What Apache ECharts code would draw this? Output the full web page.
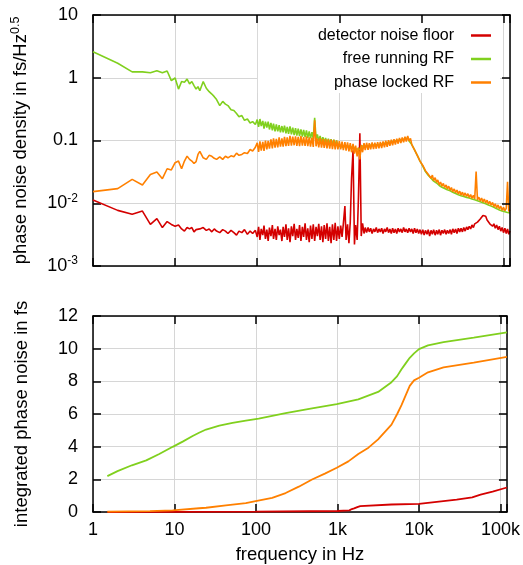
<!DOCTYPE html>
<html>
<head>
<meta charset="utf-8">
<title>phase noise</title>
<script src="https://cdn.jsdelivr.net/npm/echarts@6/dist/echarts.min.js"></script>
<style>
  html, body { margin: 0; padding: 0; background: #fff; }
  #chart { width: 523px; height: 565px; }
</style>
</head>
<body>
<div id="chart"></div>
<script>
// ---- data ----
var seriesNames = ['detector noise floor', 'free running RF', 'phase locked RF'];
var freqTickLabels = ['1', '10', '100', '1k', '10k', '100k'];
var densityTickLabels = ['10{sup|-3}', '10{sup|-2}', '0.1', '1', '10']; // 1e-3 .. 1e1

// top panel: shared frequency grid (Hz)
var freqTop = [
  1, 2, 3, 4, 5, 6, 7, 8, 9, 10, 11, 12, 13, 14, 15, 16, 17, 18, 19, 20,
  22, 24, 26, 28, 30, 32, 35, 38, 41, 44, 48, 52, 56, 60, 65, 70, 76, 82, 88, 95,
  100, 104, 108, 112, 117, 121, 126, 131, 136, 141,
  147, 153, 158, 165, 171, 178, 185, 192, 200, 207,
  215, 224, 232, 241, 251, 261, 271, 282, 293, 304,
  316, 328, 341, 355, 368, 383, 398, 413, 430, 446,
  464, 482, 501, 521, 541, 562, 584, 607, 631, 655,
  681, 708, 736, 764, 794, 825, 858, 891, 926, 962,
  1000, 1040, 1080, 1120, 1170, 1210, 1260, 1310, 1360, 1410,
  1470, 1530, 1580, 1650, 1710, 1780, 1850, 1920, 2000, 2070,
  2150, 2240, 2320, 2410, 2510, 2610, 2710, 2820, 2930, 3040,
  3160, 3280, 3410, 3550, 3680, 3830, 3980, 4130, 4300, 4460,
  4640, 4820, 5010, 5210, 5410, 5620, 5840, 6070, 6310, 6550,
  6810, 7080, 7360, 7640, 7940, 8250, 8580, 8910, 9260, 9620,
  10000, 10400, 10800, 11200, 11700, 12100, 12600, 13100, 13600, 14100,
  14700, 15300, 15800, 16500, 17100, 17800, 18500, 19200, 20000, 20700,
  21500, 22400, 23200, 24100, 25100, 26100, 27100, 28200, 29300, 30400,
  31600, 32800, 34100, 35500, 36800, 38300, 39800, 41300, 43000, 44600,
  46400, 48200, 50100, 52100, 54100, 56200, 58400, 60700, 63100, 65500,
  68100, 70800, 73600, 76400, 79400, 82500, 85800, 89100, 92600, 96200,
  100000, 104000, 108000, 112000, 116000, 120000
];
var detectorDensity = [
  0.0113, 0.0077, 0.0067, 0.0075, 0.0046, 0.0057, 0.0041, 0.0051, 0.0046, 0.0043, 0.0045, 0.0039, 0.0036, 0.0041, 0.0039, 0.0041, 0.0035, 0.0038, 0.0036, 0.0039,
  0.0041, 0.0037, 0.0039, 0.0035, 0.0039, 0.0036, 0.0034, 0.0038, 0.0036, 0.0033, 0.0037, 0.0034, 0.0031, 0.0036, 0.0034, 0.0038, 0.0032, 0.0036, 0.0033, 0.0037,
  0.0029, 0.0042, 0.0026, 0.0039, 0.0031, 0.0044, 0.0027, 0.0038, 0.0025, 0.0041,
  0.0030, 0.0045, 0.0027, 0.0039, 0.0026, 0.0043, 0.0031, 0.0038, 0.0025, 0.0042,
  0.0029, 0.0046, 0.0026, 0.0040, 0.0024, 0.0043, 0.0030, 0.0047, 0.0026, 0.0039,
  0.0028, 0.0045, 0.0025, 0.0042, 0.0029, 0.0048, 0.0026, 0.0040, 0.0024, 0.0044,
  0.0027, 0.0046, 0.0025, 0.0042, 0.0030, 0.0047, 0.0026, 0.0043, 0.0024, 0.0045,
  0.0027, 0.0048, 0.0025, 0.0042, 0.0023, 0.0046, 0.0026, 0.0049, 0.0025, 0.0043,
  0.0027, 0.0044, 0.0029, 0.0047, 0.0090, 0.0026, 0.0046, 0.0023, 0.0050, 0.025,
  0.07, 0.0022, 0.0045, 0.0026, 0.012, 0.13, 0.0030, 0.0048, 0.0033, 0.0041,
  0.0034, 0.0041, 0.0035, 0.0040, 0.0033, 0.0039, 0.0035, 0.0041, 0.0034, 0.0039,
  0.0035, 0.0040, 0.0033, 0.0039, 0.0035, 0.0041, 0.0034, 0.0039, 0.0033, 0.0040,
  0.0034, 0.0039, 0.0033, 0.0040, 0.0035, 0.0039, 0.0034, 0.0041, 0.0035, 0.0039,
  0.0034, 0.0040, 0.0035, 0.0039, 0.0033, 0.0040, 0.0034, 0.0039, 0.0033, 0.0038,
  0.0032, 0.0038, 0.0031, 0.0037, 0.0032, 0.0038, 0.0030, 0.0037, 0.0032, 0.0038,
  0.0031, 0.0037, 0.0032, 0.0038, 0.0031, 0.0037, 0.0033, 0.0038, 0.0032, 0.0037,
  0.0033, 0.0038, 0.0032, 0.0039, 0.0034, 0.0039, 0.0033, 0.0040, 0.0035, 0.0040,
  0.0035, 0.0041, 0.0036, 0.0042, 0.0038, 0.0043, 0.0039, 0.0045, 0.0041, 0.0047,
  0.0044, 0.0050, 0.0049, 0.0056, 0.0057, 0.0064, 0.0060, 0.0062, 0.0054, 0.0056,
  0.0047, 0.0050, 0.0043, 0.0047, 0.0040, 0.0045, 0.0038, 0.0043, 0.0036, 0.0041,
  0.0034, 0.0040, 0.0033, 0.0039, 0.0032, 0.0036
];
var freeDensity = [
  2.6, 1.7, 1.24, 1.24, 1.2, 1.29, 1.2, 1.28, 0.9, 0.99, 0.66, 0.87, 0.85, 0.95, 0.8, 0.87, 0.75, 0.66, 0.72, 0.62,
  0.87, 0.68, 0.6, 0.55, 0.5, 0.45, 0.36, 0.42, 0.38, 0.36, 0.31, 0.3, 0.27, 0.24, 0.25, 0.21, 0.22, 0.19, 0.2, 0.18,
  0.215, 0.165, 0.22, 0.17, 0.205, 0.155, 0.2, 0.16, 0.2, 0.15,
  0.19, 0.145, 0.185, 0.14, 0.18, 0.14, 0.175, 0.135, 0.17, 0.135,
  0.172, 0.13, 0.165, 0.128, 0.168, 0.125, 0.16, 0.122, 0.158, 0.12,
  0.155, 0.118, 0.15, 0.115, 0.148, 0.113, 0.145, 0.11, 0.14, 0.108,
  0.136, 0.106, 0.23, 0.105, 0.125, 0.098, 0.118, 0.095, 0.113, 0.092,
  0.11, 0.09, 0.107, 0.088, 0.105, 0.086, 0.103, 0.085, 0.1, 0.083,
  0.088, 0.08, 0.086, 0.078, 0.085, 0.077, 0.084, 0.076, 0.083, 0.075,
  0.081, 0.074, 0.079, 0.073, 0.078, 0.072, 0.08, 0.075, 0.083, 0.077,
  0.084, 0.078, 0.084, 0.079, 0.085, 0.08, 0.085, 0.081, 0.086, 0.082,
  0.087, 0.083, 0.089, 0.084, 0.091, 0.086, 0.093, 0.088, 0.095, 0.09,
  0.097, 0.092, 0.099, 0.095, 0.102, 0.097, 0.104, 0.1, 0.106, 0.102,
  0.11, 0.098, 0.1, 0.086, 0.086, 0.071, 0.07, 0.058, 0.056, 0.047,
  0.045, 0.039, 0.037, 0.032, 0.031, 0.028, 0.028, 0.025, 0.025, 0.0225,
  0.0232, 0.021, 0.0215, 0.0192, 0.0198, 0.018, 0.0188, 0.0172, 0.0178, 0.0164,
  0.017, 0.0158, 0.0162, 0.015, 0.0154, 0.0143, 0.0148, 0.0137, 0.0142, 0.0132,
  0.0137, 0.0128, 0.0133, 0.0124, 0.0129, 0.0121, 0.0125, 0.0117, 0.0122, 0.0114,
  0.0118, 0.011, 0.0114, 0.0106, 0.011, 0.0102, 0.0106, 0.0098, 0.0102, 0.0094,
  0.0097, 0.009, 0.0093, 0.0086, 0.0089, 0.0082, 0.0085, 0.0078, 0.0081, 0.0075,
  0.0078, 0.0073, 0.0075, 0.0071, 0.0072, 0.0070
];
var lockedDensity = [
  0.0153, 0.0171, 0.024, 0.0195, 0.0288, 0.0314, 0.0246, 0.0355, 0.034, 0.0443, 0.047, 0.0355, 0.047, 0.0564, 0.05, 0.047, 0.043, 0.046, 0.06, 0.067,
  0.053, 0.05, 0.058, 0.056, 0.052, 0.05, 0.055, 0.05, 0.056, 0.053, 0.057, 0.055, 0.063, 0.058, 0.06, 0.064, 0.062, 0.072, 0.068, 0.078,
  0.092, 0.066, 0.097, 0.069, 0.095, 0.068, 0.1, 0.072, 0.099, 0.074,
  0.104, 0.075, 0.108, 0.077, 0.106, 0.078, 0.112, 0.08, 0.108, 0.08,
  0.114, 0.081, 0.112, 0.082, 0.118, 0.083, 0.115, 0.084, 0.116, 0.082,
  0.114, 0.081, 0.117, 0.083, 0.113, 0.082, 0.116, 0.081, 0.112, 0.08,
  0.111, 0.079, 0.21, 0.081, 0.108, 0.078, 0.11, 0.077, 0.106, 0.076,
  0.105, 0.075, 0.104, 0.074, 0.103, 0.073, 0.102, 0.072, 0.1, 0.072,
  0.098, 0.072, 0.096, 0.07, 0.094, 0.069, 0.093, 0.067, 0.091, 0.065,
  0.088, 0.062, 0.083, 0.056, 0.078, 0.05, 0.085, 0.065, 0.091, 0.07,
  0.092, 0.071, 0.091, 0.072, 0.093, 0.073, 0.092, 0.074, 0.094, 0.075,
  0.095, 0.076, 0.097, 0.078, 0.099, 0.079, 0.101, 0.082, 0.103, 0.084,
  0.105, 0.086, 0.107, 0.089, 0.11, 0.091, 0.112, 0.094, 0.115, 0.096,
  0.118, 0.098, 0.108, 0.086, 0.091, 0.071, 0.075, 0.058, 0.061, 0.047,
  0.048, 0.04, 0.04, 0.033, 0.034, 0.029, 0.031, 0.025, 0.028, 0.023,
  0.0255, 0.0215, 0.0235, 0.0197, 0.0218, 0.0187, 0.0207, 0.0178, 0.0196, 0.0169,
  0.0187, 0.0162, 0.0178, 0.0153, 0.0169, 0.0147, 0.0162, 0.0141, 0.0156, 0.0135,
  0.015, 0.0131, 0.0146, 0.0128, 0.0142, 0.0124, 0.0138, 0.012, 0.0134, 0.0117,
  0.032, 0.0113, 0.0125, 0.0109, 0.0121, 0.0105, 0.0117, 0.0101, 0.0112, 0.0097,
  0.0107, 0.0093, 0.0103, 0.0088, 0.0098, 0.0084, 0.0094, 0.0081, 0.009, 0.0077,
  0.0086, 0.0076, 0.0083, 0.022, 0.0074, 0.0079
];

// bottom panel: integrated phase noise (fs)
var detectorIntFreq = [1.5, 100, 1000, 1400, 1500, 1600, 1750, 1900, 4600, 10000, 29000, 45000, 57000, 80000, 120000];
var detectorInt = [0.0, 0.02, 0.06, 0.1, 0.18, 0.22, 0.3, 0.36, 0.46, 0.5, 0.76, 0.9, 1.06, 1.25, 1.5];
var freeIntFreq = [1.5, 2, 3, 4.5, 6.5, 9.5, 12.6, 16.7, 20, 24.4, 35.5, 51.5, 75, 108, 231, 487, 980, 1800, 3150, 4600,
  5400, 6100, 6800, 7700, 8700, 10000, 12900, 20000, 47000, 120000];
var freeInt = [2.2, 2.5, 2.86, 3.16, 3.55, 3.99, 4.31, 4.65, 4.85, 5.05, 5.29, 5.45, 5.59, 5.72, 6.05, 6.35, 6.6, 6.9, 7.35, 7.95,
  8.32, 8.74, 9.07, 9.44, 9.71, 9.97, 10.2, 10.4, 10.68, 11.0];
var lockedIntFreq = [1.5, 5, 9.5, 20, 24.4, 42.7, 75, 99, 158, 231, 335, 487, 700, 980, 1360, 1800, 2400, 3150, 4600,
  5400, 6100, 6800, 7700, 8700, 10000, 12900, 20000, 47000, 120000];
var lockedInt = [0.02, 0.05, 0.1, 0.23, 0.26, 0.4, 0.54, 0.66, 0.86, 1.16, 1.55, 1.99, 2.35, 2.71, 3.1, 3.55, 3.94, 4.45, 5.35,
  6.0, 6.54, 7.1, 7.72, 8.06, 8.22, 8.55, 8.85, 9.15, 9.5];

// ---- chart ----
var FONT = '"Liberation Sans", Arial, sans-serif';
var RED = '#d40000', GREEN = '#80d01e', ORANGE = '#ff8000';
var GRIDC = '#d6d6d6';

function zip(xs, ys) {
  return xs.map(function (x, i) { return [x, ys[i]]; });
}
function decade(v) {
  var e = Math.log10(v), r = Math.round(e);
  return Math.abs(e - r) < 1e-6 ? r : null;
}

var frameLine = { show: true, onZero: false, lineStyle: { color: '#000', width: 1.5 } };
var tick = { show: true, inside: true, length: 8, lineStyle: { color: '#000', width: 1.5 } };
var split = { show: true, lineStyle: { color: GRIDC, width: 1 } };

function freqAxis(grid, pos, labels) {
  return {
    type: 'log', gridIndex: grid, position: pos, min: 1, max: 120000, splitNumber: 6,
    axisLine: frameLine, axisTick: tick,
    splitLine: pos === 'bottom' ? split : { show: false },
    z: pos === 'top' ? 5 : 0,
    axisLabel: labels ? {
      show: true, margin: 9, color: '#000', fontSize: 18, fontFamily: FONT,
      formatter: function (v) { var d = decade(v); return d === null ? '' : freqTickLabels[d]; }
    } : { show: false },
    name: labels ? 'frequency in Hz' : '',
    nameLocation: 'middle', nameGap: 33,
    nameTextStyle: { color: '#000', fontSize: 18.5, fontFamily: FONT }
  };
}

var option = {
  animation: false,
  backgroundColor: '#fff',
  grid: [
    { left: 93, right: 13, top: 15, height: 251 },
    { left: 93, right: 13, top: 316, height: 200 }
  ],
  legend: {
    data: seriesNames,
    orient: 'vertical', align: 'right',
    right: 23, top: 17,
    padding: [10, 9, 2, 60],
    backgroundColor: '#fff',
    itemGap: 6.5, itemWidth: 20, itemHeight: 2.5, icon: 'rect',
    textStyle: { color: '#000', fontSize: 16, fontFamily: FONT, lineHeight: 17, padding: [0, 12, 0, 0] }
  },
  xAxis: [
    freqAxis(0, 'bottom', false),
    freqAxis(0, 'top', false),
    freqAxis(1, 'bottom', true),
    freqAxis(1, 'top', false)
  ],
  yAxis: [
    {
      type: 'log', gridIndex: 0, position: 'left', min: 0.001, max: 10,
      axisLine: frameLine, axisTick: tick, splitLine: split,
      axisLabel: {
        margin: 15, color: '#000', fontSize: 18, fontFamily: FONT, lineHeight: 22,
        formatter: function (v) { var d = decade(v); return d === null ? '' : densityTickLabels[d + 3]; },
        rich: { sup: { fontSize: 12, lineHeight: 11, verticalAlign: 'top', color: '#000', fontFamily: FONT } }
      },
      name: 'phase noise density in fs/Hz{sup|0.5}',
      nameLocation: 'middle', nameGap: 60, nameRotate: 90,
      nameTextStyle: {
        color: '#000', fontSize: 18.5, fontFamily: FONT, lineHeight: 24,
        rich: { sup: { fontSize: 12.5, lineHeight: 12, verticalAlign: 'top', color: '#000', fontFamily: FONT } }
      }
    },
    {
      type: 'log', gridIndex: 0, position: 'right', min: 0.001, max: 10, z: 5,
      axisLine: frameLine, axisTick: tick, splitLine: { show: false }, axisLabel: { show: false }
    },
    {
      type: 'value', gridIndex: 1, position: 'left', min: 0, max: 12, interval: 2,
      axisLine: frameLine, axisTick: tick, splitLine: split,
      axisLabel: { margin: 15, color: '#000', fontSize: 18, fontFamily: FONT },
      name: 'integrated phase noise in fs',
      nameLocation: 'middle', nameGap: 62, nameRotate: 90,
      nameTextStyle: { color: '#000', fontSize: 18.5, fontFamily: FONT }
    },
    {
      type: 'value', gridIndex: 1, position: 'right', min: 0, max: 12, interval: 2,
      axisLine: frameLine, axisTick: tick, splitLine: { show: false }, axisLabel: { show: false }
    }
  ],
  series: [
    { name: seriesNames[0], type: 'line', xAxisIndex: 0, yAxisIndex: 0, data: zip(freqTop, detectorDensity) },
    { name: seriesNames[1], type: 'line', xAxisIndex: 0, yAxisIndex: 0, data: zip(freqTop, freeDensity) },
    { name: seriesNames[2], type: 'line', xAxisIndex: 0, yAxisIndex: 0, data: zip(freqTop, lockedDensity) },
    { name: seriesNames[0], type: 'line', xAxisIndex: 2, yAxisIndex: 2, data: zip(detectorIntFreq, detectorInt) },
    { name: seriesNames[1], type: 'line', xAxisIndex: 2, yAxisIndex: 2, data: zip(freeIntFreq, freeInt) },
    { name: seriesNames[2], type: 'line', xAxisIndex: 2, yAxisIndex: 2, data: zip(lockedIntFreq, lockedInt) }
  ].map(function (s, i) {
    s.symbol = 'none';
    s.color = [RED, GREEN, ORANGE][i % 3];
    s.lineStyle = { width: i < 3 ? 1.6 : 1.8 };
    return s;
  })
};

var chart = echarts.init(document.getElementById('chart'), null, { renderer: 'canvas' });
chart.setOption(option);
</script>
</body>
</html>
